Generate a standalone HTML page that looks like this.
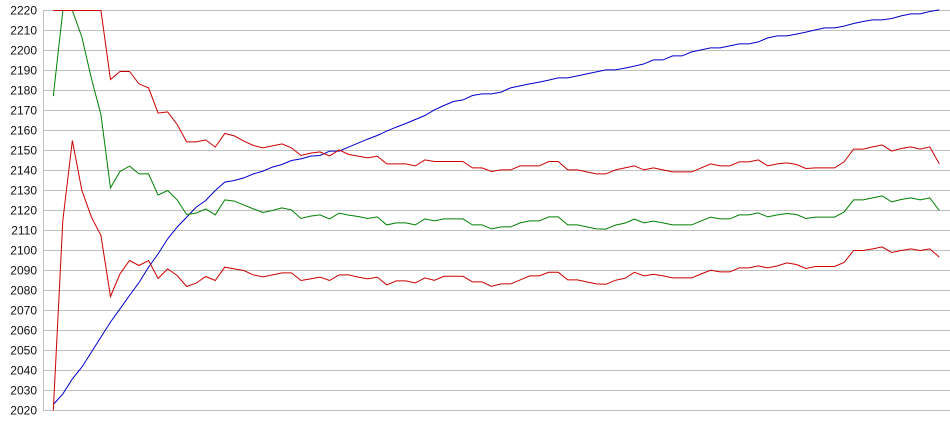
<!DOCTYPE html>
<html><head><meta charset="utf-8"><style>
html,body{margin:0;padding:0;background:#fff;}
svg{display:block;}
text{font-family:"Liberation Sans",Arial,sans-serif;font-size:12px;fill:#111;}
</style></head><body>
<svg width="950" height="435" viewBox="0 0 950 435" xmlns="http://www.w3.org/2000/svg">
<g stroke="#c0c0c0" stroke-width="1" shape-rendering="crispEdges">
<line x1="43" y1="10.5" x2="950" y2="10.5"/>
<line x1="43" y1="30.5" x2="950" y2="30.5"/>
<line x1="43" y1="50.5" x2="950" y2="50.5"/>
<line x1="43" y1="70.5" x2="950" y2="70.5"/>
<line x1="43" y1="90.5" x2="950" y2="90.5"/>
<line x1="43" y1="110.5" x2="950" y2="110.5"/>
<line x1="43" y1="130.5" x2="950" y2="130.5"/>
<line x1="43" y1="150.5" x2="950" y2="150.5"/>
<line x1="43" y1="170.5" x2="950" y2="170.5"/>
<line x1="43" y1="190.5" x2="950" y2="190.5"/>
<line x1="43" y1="210.5" x2="950" y2="210.5"/>
<line x1="43" y1="230.5" x2="950" y2="230.5"/>
<line x1="43" y1="250.5" x2="950" y2="250.5"/>
<line x1="43" y1="270.5" x2="950" y2="270.5"/>
<line x1="43" y1="290.5" x2="950" y2="290.5"/>
<line x1="43" y1="310.5" x2="950" y2="310.5"/>
<line x1="43" y1="330.5" x2="950" y2="330.5"/>
<line x1="43" y1="350.5" x2="950" y2="350.5"/>
<line x1="43" y1="370.5" x2="950" y2="370.5"/>
<line x1="43" y1="390.5" x2="950" y2="390.5"/>
<line x1="43" y1="410.5" x2="950" y2="410.5"/>
<line x1="43.5" y1="10" x2="43.5" y2="411"/>
</g>
<g text-anchor="end">
<text x="37" y="14.5">2220</text>
<text x="37" y="34.5">2210</text>
<text x="37" y="54.5">2200</text>
<text x="37" y="74.5">2190</text>
<text x="37" y="94.5">2180</text>
<text x="37" y="114.5">2170</text>
<text x="37" y="134.5">2160</text>
<text x="37" y="154.5">2150</text>
<text x="37" y="174.5">2140</text>
<text x="37" y="194.5">2130</text>
<text x="37" y="214.5">2120</text>
<text x="37" y="234.5">2110</text>
<text x="37" y="254.5">2100</text>
<text x="37" y="274.5">2090</text>
<text x="37" y="294.5">2080</text>
<text x="37" y="314.5">2070</text>
<text x="37" y="334.5">2060</text>
<text x="37" y="354.5">2050</text>
<text x="37" y="374.5">2040</text>
<text x="37" y="394.5">2030</text>
<text x="37" y="414.5">2020</text>
</g>
<g transform="translate(53.3,4450.5) scale(9.527,-2)" fill="none" stroke-width="1">
<polyline vector-effect="non-scaling-stroke" stroke="#0000cc" points="0,2023 1,2028.3 2,2035.8 3,2041.7 4,2049.2 5,2056.7 6,2064.2 7,2070.8 8,2077.5 9,2084 10,2091.7 11,2098.3 12,2105.8 13,2111.7 14,2116.7 15,2121.7 16,2125 17,2130 18,2134.2 19,2135 20,2136.3 21,2138.3 22,2139.7 23,2141.7 24,2143 25,2145 26,2145.8 27,2147.2 28,2147.5 29,2149.7 30,2149.7 31,2151.7 32,2153.7 33,2155.7 34,2157.5 35,2159.7 36,2161.7 37,2163.5 38,2165.5 39,2167.5 40,2170.3 41,2172.5 42,2174.5 43,2175.3 44,2177.5 45,2178.3 46,2178.3 47,2179.2 48,2181.3 49,2182.3 50,2183.3 51,2184.2 52,2185.2 53,2186.3 54,2186.3 55,2187.3 56,2188.3 57,2189.3 58,2190.3 59,2190.3 60,2191.2 61,2192.2 62,2193.3 63,2195.3 64,2195.3 65,2197.3 66,2197.3 67,2199.3 68,2200.3 69,2201.3 70,2201.3 71,2202.3 72,2203.3 73,2203.3 74,2204.3 75,2206.3 76,2207.3 77,2207.3 78,2208.2 79,2209.2 80,2210.3 81,2211.3 82,2211.3 83,2212.2 84,2213.5 85,2214.5 86,2215.3 87,2215.3 88,2216 89,2217.3 90,2218.3 91,2218.3 92,2219.5 93,2220.3"/>
<polyline vector-effect="non-scaling-stroke" stroke="#008000" points="0,2177.2 1,2220 2,2220 3,2206.7 4,2186 5,2168 6,2131.3 7,2139.5 8,2142.2 9,2138.3 10,2138.3 11,2127.7 12,2130 13,2125.3 14,2118 15,2118.7 16,2120.8 17,2117.8 18,2125.3 19,2124.7 20,2122.7 21,2120.8 22,2119 23,2120 24,2121.3 25,2120.3 26,2116 27,2117.2 28,2117.8 29,2115.8 30,2118.7 31,2117.7 32,2117 33,2116 34,2116.8 35,2112.8 36,2113.8 37,2113.8 38,2112.8 39,2115.8 40,2114.8 41,2115.8 42,2115.8 43,2115.8 44,2112.8 45,2112.8 46,2110.8 47,2111.8 48,2111.8 49,2113.8 50,2114.8 51,2114.8 52,2116.8 53,2116.8 54,2112.8 55,2112.8 56,2111.8 57,2110.8 58,2110.7 59,2112.7 60,2113.7 61,2115.7 62,2113.8 63,2114.7 64,2113.8 65,2112.8 66,2112.8 67,2112.8 68,2114.8 69,2116.7 70,2115.8 71,2115.8 72,2117.8 73,2117.8 74,2118.8 75,2116.8 76,2117.8 77,2118.5 78,2118 79,2116 80,2116.7 81,2116.7 82,2116.7 83,2119.2 84,2125.3 85,2125.3 86,2126.3 87,2127.3 88,2124.3 89,2125.5 90,2126.3 91,2125.3 92,2126.3 93,2120"/>
<polyline vector-effect="non-scaling-stroke" stroke="#cc0000" points="0,2220 1,2220 2,2220 3,2220 4,2220 5,2220 6,2185.5 7,2189.5 8,2189.5 9,2183.3 10,2181.3 11,2168.7 12,2169.3 13,2163 14,2154.3 15,2154.3 16,2155.3 17,2151.7 18,2158.5 19,2157.3 20,2154.7 21,2152.5 22,2151.3 23,2152.3 24,2153.3 25,2151.3 26,2147.5 27,2148.7 28,2149.3 29,2147.3 30,2150.3 31,2148 32,2147.2 33,2146.3 34,2147.2 35,2143.3 36,2143.3 37,2143.3 38,2142.3 39,2145.3 40,2144.5 41,2144.5 42,2144.5 43,2144.5 44,2141.3 45,2141.3 46,2139.5 47,2140.3 48,2140.3 49,2142.3 50,2142.3 51,2142.3 52,2144.5 53,2144.5 54,2140.3 55,2140.3 56,2139.3 57,2138.3 58,2138.3 59,2140.3 60,2141.3 61,2142.3 62,2140.3 63,2141.3 64,2140.3 65,2139.3 66,2139.3 67,2139.3 68,2141.3 69,2143.3 70,2142.3 71,2142.3 72,2144.3 73,2144.3 74,2145.3 75,2142.3 76,2143.3 77,2143.8 78,2143 79,2141 80,2141.3 81,2141.3 82,2141.3 83,2144.3 84,2150.7 85,2150.7 86,2151.8 87,2152.8 88,2149.7 89,2151 90,2151.8 91,2150.7 92,2151.8 93,2143.3"/>
<polyline vector-effect="non-scaling-stroke" stroke="#cc0000" points="0,2020 1,2115 2,2155 3,2130 4,2116.7 5,2107.5 6,2077 7,2088.3 8,2095 9,2092.5 10,2095 11,2086 12,2090.8 13,2087.5 14,2082 15,2083.7 16,2087 17,2085 18,2091.7 19,2090.8 20,2090 21,2087.8 22,2086.8 23,2087.8 24,2088.8 25,2088.8 26,2085 27,2085.8 28,2086.7 29,2085 30,2087.8 31,2087.8 32,2086.7 33,2085.8 34,2086.7 35,2082.8 36,2084.8 37,2084.8 38,2083.8 39,2086.3 40,2085.1 41,2087.1 42,2087.1 43,2087.1 44,2084.3 45,2084.3 46,2082.1 47,2083.3 48,2083.3 49,2085.3 50,2087.3 51,2087.3 52,2089.1 53,2089.1 54,2085.3 55,2085.3 56,2084.3 57,2083.3 58,2083.1 59,2085.1 60,2086.1 61,2089.1 62,2087.3 63,2088.1 64,2087.3 65,2086.3 66,2086.3 67,2086.3 68,2088.3 69,2090.1 70,2089.3 71,2089.3 72,2091.3 73,2091.3 74,2092.3 75,2091.3 76,2092.3 77,2093.8 78,2093 79,2091 80,2092 81,2092 82,2092 83,2094 84,2100 85,2100 86,2100.8 87,2101.8 88,2099 89,2100 90,2100.8 91,2100 92,2100.8 93,2096.7"/>
</g>
</svg>
</body></html>
